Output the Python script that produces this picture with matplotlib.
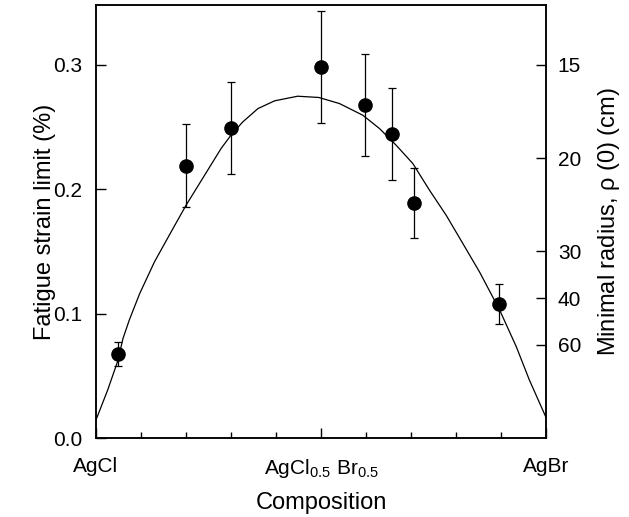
import numpy as np
import matplotlib
matplotlib.use('Agg')
import matplotlib.pyplot as plt
from matplotlib.ticker import MultipleLocator

plt.rcParams['font.family'] = ['Liberation Sans', 'DejaVu Sans']
plt.rcParams['mathtext.default'] = 'regular'

#---------DATA----------------------------------
comp = [0.05, 0.2, 0.3, 0.5, 0.597, 0.657, 0.706, 0.895]
strain = [0.0675, 0.219, 0.249, 0.298, 0.268, 0.244, 0.189, 0.108]
strain_err = [0.010, 0.033, 0.037, 0.045, 0.041, 0.037, 0.028, 0.016]

# fitted curve, read point by point
curve_x = [0.0, 0.026, 0.0485, 0.06, 0.074, 0.097, 0.13, 0.167, 0.2, 0.241, 0.278, 0.3,
           0.326, 0.36, 0.397, 0.448, 0.495, 0.541, 0.593, 0.63, 0.667, 0.704, 0.741,
           0.778, 0.815, 0.852, 0.897, 0.934, 0.963, 1.0]
curve_y = [0.0145, 0.0386, 0.062, 0.080, 0.0948, 0.116, 0.1416, 0.1657, 0.187, 0.211, 0.2327, 0.2434,
           0.254, 0.2648, 0.271, 0.2747, 0.2737, 0.2688, 0.2594, 0.2487, 0.2353, 0.2206, 0.1992,
           0.1791, 0.1564, 0.1336, 0.1028, 0.0733, 0.0466, 0.0165]

xtick_pos = [0.0, 0.5, 1.0]
xtick_lab = ['AgCl', r'AgCl$_{0.5}$ Br$_{0.5}$', 'AgBr']
radius_ticks = [15, 20, 30, 40, 60]   # cm, strain = 4.5 / rho

#------------PLOT------------
fig = plt.figure(figsize=(6.29, 5.17), dpi=100)
ax = fig.add_axes([0.1526, 0.1528, 0.7155, 0.8375])

ax.plot(curve_x, curve_y, '-', color='black', linewidth=0.9)
ax.errorbar(comp, strain, yerr=strain_err, fmt='o', color='black', ms=9.5,
            elinewidth=0.9, capsize=3, capthick=0.9)

ax.set_xlim(0, 1)
ax.set_ylim(0, 0.348)
ax.set_xticks(xtick_pos)
ax.set_xticklabels(xtick_lab)
ax.xaxis.set_minor_locator(MultipleLocator(0.1))
ax.set_yticks([0.0, 0.1, 0.2, 0.3])
ax.set_yticklabels(['0.0', '0.1', '0.2', '0.3'])
ax.tick_params(direction='in', labelsize=15, length=7, width=1, pad=10)
ax.tick_params(axis='x', pad=14)
ax.tick_params(axis='x', which='minor', direction='in', length=4, width=1)
ax.set_xlabel('Composition', fontsize=17, labelpad=8)
ax.set_ylabel('Fatigue strain limit (%)', fontsize=17, labelpad=-2)

ax2 = ax.twinx()
ax2.set_ylim(ax.get_ylim())
ax2.set_yticks([4.5 / r for r in radius_ticks])
ax2.set_yticklabels([str(r) for r in radius_ticks])
ax2.tick_params(direction='in', labelsize=15, length=7, width=1, pad=8.5)
ax2.set_ylabel(r'Minimal radius, $\rho$ (0) (cm)', fontsize=17, labelpad=11)

for a in (ax, ax2):
    for s in a.spines.values():
        s.set_linewidth(1.1)

plt.savefig('out.png', dpi=100)
